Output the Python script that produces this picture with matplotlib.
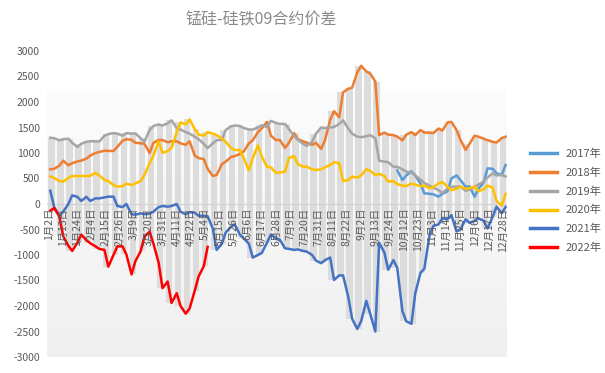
import datetime as dt
import numpy as np
import matplotlib
matplotlib.use("Agg")
import matplotlib.pyplot as plt

plt.rcParams['font.family'] = ['Noto Sans CJK SC', 'DejaVu Sans']

# ---------------- data ----------------
title = "锰硅-硅铁09合约价差"
series_names = ["2017年", "2018年", "2019年", "2020年", "2021年", "2022年"]
series_colors = ["#5B9BD5", "#ED7D31", "#A5A5A5", "#FFC000", "#4472C4", "#FF0000"]

# category axis: calendar days (5/1 and 10/1-10/7 absent)
skip_dates = [(5, 1), (10, 1), (10, 2), (10, 3), (10, 4), (10, 5), (10, 6), (10, 7)]
label_step = 11
n_weeks = 51  # two readings per week (2nd and 5th day of each 7-day block)

s2017 = [None] * 77 + [660, 470, 560, 640, 560, 400, 209, 200, 190, 144, 200, 250, 500,
                       560, 470, 340, 345, 144, 300, 420, 699, 690, 601, 570, 764]
s2018 = [680, 690, 750, 850, 760, 800, 835, 850, 890, 950, 1000, 1020, 1045, 1040,
         1040, 1120, 1240, 1270, 1260, 1200, 1190, 1180, 1000, 1200, 1254, 1254,
         1210, 1230, 1230, 1190, 1160, 1230, 950, 900, 880, 690, 550, 568, 780, 830,
         920, 940, 980, 1030, 1190, 1250, 1410, 1483, 1610, 1340, 1254, 1254,
         1100, 1200, 1390, 1270, 1230, 1200, 1160, 1200, 1080, 1250, 1650, 1820,
         1700, 2190, 2260, 2280, 2580, 2710, 2600, 2560, 2400, 1350, 1400, 1360,
         1350, 1320, 1250, 1360, 1410, 1350, 1450, 1400, 1400, 1390, 1480, 1440,
         1600, 1610, 1450, 1260, 1060, 1180, 1340, 1320, 1280, 1250, 1220, 1205,
         1290, 1320]
s2019 = [1300, 1290, 1250, 1270, 1280, 1200, 1120, 1180, 1220, 1230, 1230, 1225,
         1340, 1370, 1390, 1380, 1340, 1390, 1380, 1385, 1290, 1220, 1450, 1530,
         1560, 1540, 1580, 1640, 1490, 1460, 1410, 1380, 1320, 1270, 1180, 1095,
         1190, 1250, 1260, 1450, 1520, 1540, 1530, 1490, 1460, 1460, 1500, 1545,
         1510, 1630, 1590, 1570, 1570, 1470, 1330, 1260, 1180, 1140, 1220, 1380,
         1500, 1490, 1500, 1510, 1570, 1640, 1480, 1380, 1320, 1310, 1330, 1350,
         1290, 850, 830, 820, 731, 730, 680, 635, 620, 560, 480, 410, 360, 320,
         270, 215, 300, 340, 340, 340, 260, 280, 340, 380, 440, 520, 600, 560,
         570, 540]
s2020 = [540, 510, 450, 440, 510, 550, 545, 550, 550, 550, 610, 560, 470, 450,
         370, 340, 350, 400, 370, 405, 450, 570, 800, 950, 1230, 1000, 1040, 1100,
         1400, 1600, 1560, 1660, 1470, 1360, 1340, 1410, 1380, 1350, 1280, 1220,
         1100, 1060, 1058, 900, 660, 900, 1150, 930, 730, 720, 610, 620, 630, 900,
         940, 780, 731, 731, 680, 666, 680, 720, 764, 820, 800, 450, 470, 535,
         520, 560, 680, 650, 568, 590, 550, 440, 450, 390, 360, 350, 400, 380,
         350, 360, 310, 330, 405, 430, 340, 270, 300, 340, 300, 310, 340, 250,
         290, 360, 320, 60, -30, 200]
s2021 = [260, -60, -230, -150, 0, 170, 140, 60, 140, 60, 110, 110, 130, 144,
         144, -40, -60, 0, -200, -210, -183, -200, -190, -150, -60, -40, -52, -40,
         0, -150, -200, -160, -170, -230, -230, -240, -480, -900, -780, -560,
         -450, -400, -600, -673, -780, -1050, -1000, -960, -760, -600, -670, -700,
         -869, -880, -900, -890, -920, -934, -1000, -1110, -1160, -1100, -1050,
         -1490, -1400, -1400, -1817, -2250, -2450, -2300, -1900, -2150, -2500,
         -760, -950, -1290, -1100, -1250, -2100, -2300, -2350, -1750, -1350, -1270,
         -620, -430, -400, -280, -300, -216, -540, -500, -300, -370, -330, -280,
         -330, -480, -250, -52, -183, -60]
s2022 = [-130, -80, -240, -630, -820, -920, -760, -600, -710, -770, -830, -880,
         -900, -1229, -1000, -830, -830, -990, -1380, -1120, -930, -640, -543,
         -780, -1150, -1650, -1520, -1940, -1750, -2000, -2150, -2050, -1700,
         -1420, -1220, -840] + [None] * 66

yticks = list(range(-3000, 3001, 500))

# ---------------- build categories ----------------
dates = []
d = dt.date(2023, 1, 2)
while d.year == 2023:
    if (d.month, d.day) not in skip_dates:
        dates.append(f"{d.month}月{d.day}日")
    d += dt.timedelta(days=1)
n_cat = len(dates)

positions = []
for k in range(n_weeks):
    positions += [7 * k + 1, 7 * k + 4]
positions = np.array(positions)

all_series = [np.array(s, dtype=float) for s in (s2017, s2018, s2019, s2020, s2021, s2022)]

# ---------------- figure ----------------
W, H = 605, 373
fig = plt.figure(figsize=(W / 100, H / 100), dpi=100)
ax_l, ax_r, ax_t, ax_b = 47, 507, 51, 357
ax = fig.add_axes([ax_l / W, 1 - ax_b / H, (ax_r - ax_l) / W, (ax_b - ax_t) / H])

px_per_cat = (503 - 49) / 352
x0 = -(49 - ax_l) / px_per_cat
x1 = x0 + (ax_r - ax_l) / px_per_cat
ax.set_xlim(x0, x1)
ax.set_ylim(-3000, 3000)

# plot-area gradient background
grad = np.linspace(0.988, 0.94, 256).reshape(-1, 1)
ax.imshow(np.dstack([grad, grad, grad]), extent=(x0, x1, -3000, 2250),
          aspect='auto', origin='upper', zorder=0, interpolation='bilinear')

# drop-line stripes (weekly blocks) from the series values
stacked = np.vstack(all_series)
for k in range(n_weeks):
    vals = stacked[:, 2 * k:2 * k + 2]
    top = np.nanmax(vals)
    bot = np.nanmin(vals)
    c = 7 * k + 2
    if top > 0:
        ax.bar(c, top, width=5, color="#dcdcdc", zorder=1, linewidth=0)
    if bot < 0:
        ax.bar(c, bot, width=5, color="#dcdcdc", zorder=1, linewidth=0)

ax.axhline(0, color="#d0d0d0", lw=0.8, zorder=2)

handles = []
for name, col, s in zip(series_names, series_colors, all_series):
    m = ~np.isnan(s)
    ln, = ax.plot(positions[m], s[m], color=col, lw=1.8, zorder=3,
                  solid_joinstyle='round', label=name)
    handles.append(ln)

# axes styling
for sp in ax.spines.values():
    sp.set_visible(False)
ax.set_yticks(yticks)
ax.set_yticklabels([str(v) for v in yticks], color="#595959", fontsize=7.5)
ax.tick_params(axis='y', length=0, pad=5)
ax.set_xticks([])

# category labels sitting on the zero line
for i in range(0, n_cat, label_step):
    ax.text(i, -70, dates[i], rotation=90, ha='center', va='top',
            fontsize=7.5, color="#595959", zorder=4)

fig.text(261 / W, 1 - 20 / H, title, ha='center', va='center',
         fontsize=11.5, color="#8a8a8a")

leg = fig.legend(handles=handles, loc='upper left',
                 bbox_to_anchor=(520 / W, 1 - 139 / H), frameon=False,
                 fontsize=8, labelcolor="#595959", handlelength=2.4,
                 handletextpad=0.8, labelspacing=0.75)
for lh in leg.get_lines():
    lh.set_linewidth(2.5)

fig.savefig("out.png", dpi=100)
